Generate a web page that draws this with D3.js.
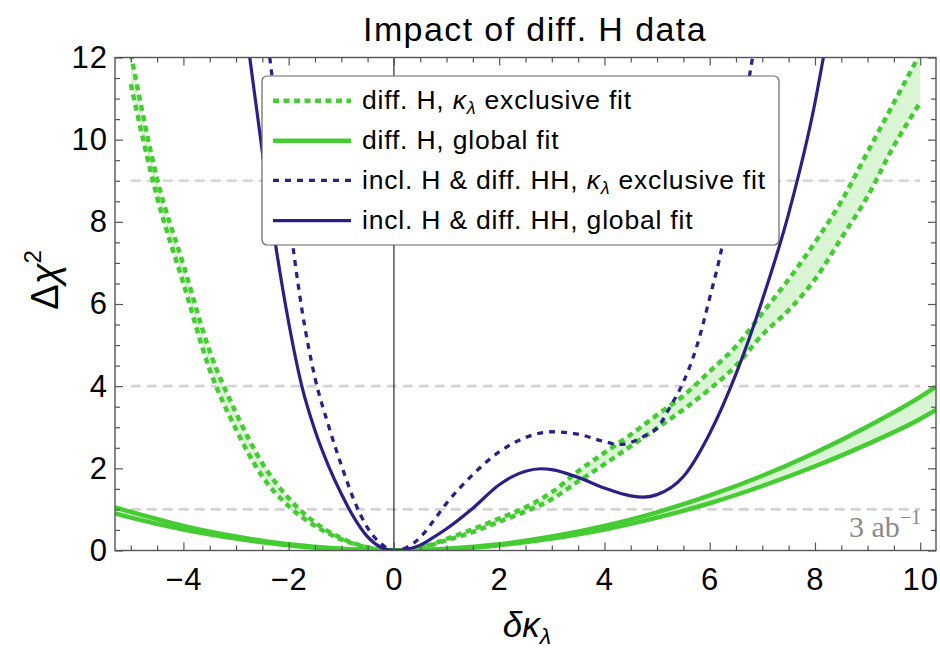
<!DOCTYPE html>
<html><head><meta charset="utf-8">
<script src="https://cdn.jsdelivr.net/npm/d3@7"></script>
<style>body{margin:0;background:#fff} svg{display:block}</style>
</head><body><svg id="c" width="940" height="650"></svg>
<script>
// ---------------- data ----------------
const xDomain = [-5.3, 10.3];
const yDomain = [0, 12];
const xTickLabels = [-4, -2, 0, 2, 4, 6, 8, 10];
const yTickLabels = [0, 2, 4, 6, 8, 10, 12];
const refLevels = [1, 4, 9];
const refRange = [-5, 10];

// diff. H, global fit (band: upper / lower edge)
const xGreenGlobal = [-5.3, -5, -4, -3, -2, -1, 0, 1, 2, 3, 4, 5, 6, 7, 8, 9, 10, 10.3];
const greenGlobalUpper = [1.05, 0.94, 0.60, 0.34, 0.15, 0.04, 0, 0.04, 0.15, 0.34, 0.60, 0.93, 1.34, 1.82, 2.38, 3.02, 3.74, 3.99];
const greenGlobalLower = [0.90, 0.80, 0.51, 0.29, 0.13, 0.03, 0, 0.03, 0.13, 0.29, 0.51, 0.80, 1.15, 1.57, 2.05, 2.59, 3.20, 3.42];

// diff. H, kappa_lambda exclusive fit (band: upper / lower edge)
const xGreenExcl = [-5, -4.5, -4, -3.5, -3, -2.5, -2, -1.5, -1, -0.5, 0, 0.5, 1, 1.5, 2, 2.5, 3, 3.5, 4, 4.5, 5, 5.5, 6, 6.5, 7, 7.5, 8, 8.5, 9, 9.5, 10];
const greenExclUpper = [12.1, 9.05, 6.95, 4.85, 3.35, 2.12, 1.27, 0.68, 0.30, 0.08, 0, 0.07, 0.28, 0.52, 0.78, 1.05, 1.42, 1.93, 2.38, 2.82, 3.30, 3.77, 4.36, 4.97, 5.78, 6.60, 7.50, 8.50, 9.70, 10.90, 12.10];
const greenExclLower = [11.35, 8.60, 6.50, 4.40, 2.95, 1.80, 1.08, 0.60, 0.27, 0.07, 0, 0.06, 0.25, 0.45, 0.70, 0.95, 1.25, 1.68, 2.10, 2.54, 2.98, 3.43, 3.93, 4.50, 5.25, 5.85, 6.60, 7.60, 8.62, 9.85, 10.90];

// incl. H & diff. HH, global fit
const xPurpleGlobal = [-2.74, -2.5, -2.25, -2, -1.75, -1.5, -1.25, -1, -0.75, -0.5, -0.25, 0, 0.25, 0.5, 0.75, 1, 1.5, 2, 2.25, 2.5, 2.8, 3, 3.5, 4, 4.5, 4.75, 5, 5.5, 6, 6.5, 7, 7.5, 8, 8.16];
const purpleGlobal = [12, 9.7, 7.45, 5.55, 4.0, 2.92, 2.08, 1.38, 0.78, 0.33, 0.08, 0, 0.03, 0.13, 0.32, 0.53, 1.03, 1.6, 1.8, 1.93, 1.99, 1.97, 1.78, 1.52, 1.33, 1.30, 1.36, 1.80, 2.85, 4.3, 6.1, 8.2, 10.9, 12];

// incl. H & diff. HH, kappa_lambda exclusive fit
const xPurpleExcl = [-2.36, -2.25, -2, -1.75, -1.5, -1.25, -1, -0.75, -0.5, -0.25, 0, 0.25, 0.5, 0.75, 1, 1.25, 1.5, 1.75, 2, 2.5, 3, 3.5, 4, 4.25, 4.5, 4.75, 5, 5.25, 5.5, 5.75, 6, 6.25, 6.5, 6.75, 6.84];
const purpleExcl = [12, 10.87, 8.2, 5.88, 4.2, 3.07, 2.08, 1.2, 0.55, 0.17, 0, 0.08, 0.32, 0.72, 1.15, 1.52, 1.85, 2.15, 2.4, 2.75, 2.89, 2.83, 2.65, 2.58, 2.63, 2.78, 2.98, 3.5, 4.1, 4.95, 6.15, 7.5, 9.5, 11.5, 12.2];

const legendLabels = [
  ["diff. H, ", "κ", "λ", " exclusive fit"],
  ["diff. H, global fit"],
  ["incl. H & diff. HH, ", "κ", "λ", " exclusive fit"],
  ["incl. H & diff. HH, global fit"]
];

// ---------------- drawing ----------------
const GREEN = "#45cc33", GREEN_FILL = "#d9f5d4", PURPLE = "#2c1f86";
const FONT = "'Liberation Sans', Arial, Helvetica, sans-serif";
const svg = d3.select("#c");
const L = 115, R = 936, T = 57.5, B = 550.5;
const x = d3.scaleLinear().domain(xDomain).range([L, R]);
const y = d3.scaleLinear().domain(yDomain).range([B, T]);

svg.append("defs").append("clipPath").attr("id", "plot")
  .append("rect").attr("x", L).attr("y", T).attr("width", R - L).attr("height", B - T);

// reference dashed levels
svg.append("g").selectAll("line").data(refLevels).join("line")
  .attr("x1", x(refRange[0])).attr("x2", x(refRange[1]))
  .attr("y1", d => y(d)).attr("y2", d => y(d))
  .attr("stroke", "#d4d4d4").attr("stroke-width", 2.6).attr("stroke-dasharray", "10,6");

// vertical line at 0
svg.append("line").attr("x1", x(0)).attr("x2", x(0)).attr("y1", T).attr("y2", B)
  .attr("stroke", "#000").attr("stroke-width", 1);

const plot = svg.append("g").attr("clip-path", "url(#plot)");
const curve = d3.curveMonotoneX;
const zip = (xs, ys) => xs.map((v, i) => [v, ys[i]]);
const line = d3.line().x(d => x(d[0])).y(d => y(d[1])).curve(curve);
const area = d3.area().x(d => x(d[0])).y0(d => y(d[1])).y1(d => y(d[2])).curve(curve);

// bands
plot.append("path").datum(xGreenExcl.map((v, i) => [v, greenExclLower[i], greenExclUpper[i]]))
  .attr("d", area).attr("fill", GREEN_FILL);
plot.append("path").datum(xGreenGlobal.map((v, i) => [v, greenGlobalLower[i], greenGlobalUpper[i]]))
  .attr("d", area).attr("fill", GREEN_FILL);

// green lines
[greenGlobalUpper, greenGlobalLower].forEach(s =>
  plot.append("path").datum(zip(xGreenGlobal, s)).attr("d", line)
    .attr("fill", "none").attr("stroke", GREEN).attr("stroke-width", 4.5));
[greenExclUpper, greenExclLower].forEach(s =>
  plot.append("path").datum(zip(xGreenExcl, s)).attr("d", line)
    .attr("fill", "none").attr("stroke", GREEN).attr("stroke-width", 4.5)
    .attr("stroke-dasharray", "6,4.5"));

// purple lines
plot.append("path").datum(zip(xPurpleExcl, purpleExcl)).attr("d", line)
  .attr("fill", "none").attr("stroke", PURPLE).attr("stroke-width", 3.3)
  .attr("stroke-dasharray", "6,6");
plot.append("path").datum(zip(xPurpleGlobal, purpleGlobal)).attr("d", line)
  .attr("fill", "none").attr("stroke", PURPLE).attr("stroke-width", 3.2);

// frame + ticks
const FRAME = "#555";
function styleAxis(g) {
  g.select(".domain").remove();
  g.selectAll("line").attr("stroke", FRAME).attr("stroke-width", 1.2);
  g.selectAll("text").attr("font-size", 31).attr("font-family", FONT)
    .attr("fill", "#000").style("letter-spacing", "1px");
}
const xMinor = d3.range(-5, 10.01, 0.5).filter(v => !xTickLabels.includes(v));
const yMinor = d3.range(0, 12.01, 0.5).filter(v => !yTickLabels.includes(v));

svg.append("g").attr("transform", `translate(0,${B})`)
  .call(d3.axisBottom(x).tickValues(xTickLabels).tickSize(-8).tickPadding(17)).call(styleAxis);
svg.append("g").attr("transform", `translate(0,${B})`)
  .call(d3.axisBottom(x).tickValues(xMinor).tickSize(-5).tickFormat("")).call(styleAxis);
svg.append("g").attr("transform", `translate(0,${T})`)
  .call(d3.axisTop(x).tickValues(xTickLabels).tickSize(-8).tickFormat("")).call(styleAxis);
svg.append("g").attr("transform", `translate(0,${T})`)
  .call(d3.axisTop(x).tickValues(xMinor).tickSize(-5).tickFormat("")).call(styleAxis);
svg.append("g").attr("transform", `translate(${L},0)`)
  .call(d3.axisLeft(y).tickValues(yTickLabels).tickSize(-8).tickPadding(7)).call(styleAxis);
svg.append("g").attr("transform", `translate(${L},0)`)
  .call(d3.axisLeft(y).tickValues(yMinor).tickSize(-5).tickFormat("")).call(styleAxis);
svg.append("g").attr("transform", `translate(${R},0)`)
  .call(d3.axisRight(y).tickValues(yTickLabels).tickSize(-8).tickFormat("")).call(styleAxis);
svg.append("g").attr("transform", `translate(${R},0)`)
  .call(d3.axisRight(y).tickValues(yMinor).tickSize(-5).tickFormat("")).call(styleAxis);

svg.append("rect").attr("x", L).attr("y", T).attr("width", R - L).attr("height", B - T)
  .attr("fill", "none").attr("stroke", FRAME).attr("stroke-width", 1.4);

// legend
const lg = svg.append("g");
lg.append("rect").attr("x", 262).attr("y", 76).attr("width", 517).attr("height", 169)
  .attr("rx", 5).attr("fill", "#fff").attr("stroke", "#666").attr("stroke-width", 1.2);
const legendStyles = [
  {c: GREEN, w: 4.5, dash: "6,4.5"},
  {c: GREEN, w: 4.5, dash: null},
  {c: PURPLE, w: 3.3, dash: "6,6"},
  {c: PURPLE, w: 3.2, dash: null}
];
const rowY = [100.7, 140.7, 180.3, 220.7];
legendLabels.forEach((parts, i) => {
  const st = legendStyles[i];
  lg.append("line").attr("x1", 273).attr("x2", 351).attr("y1", rowY[i]).attr("y2", rowY[i])
    .attr("stroke", st.c).attr("stroke-width", st.w).attr("stroke-dasharray", st.dash);
  const t = lg.append("text").attr("x", 362).attr("y", rowY[i] + 8.5)
    .attr("font-family", FONT).attr("font-size", 26.5).style("letter-spacing", "0.8px");
  if (parts.length === 1) t.text(parts[0]);
  else {
    t.append("tspan").text(parts[0]);
    t.append("tspan").attr("font-style", "italic").text(parts[1]);
    t.append("tspan").attr("font-style", "italic").attr("font-size", 18).attr("dy", 5).text(parts[2]);
    t.append("tspan").attr("dy", -5).text(parts[3]);
  }
});

// title
svg.append("text").attr("x", 535).attr("y", 41).attr("text-anchor", "middle")
  .attr("font-family", FONT).attr("font-size", 34).style("letter-spacing", "1.4px")
  .text("Impact of diff. H data");

// axis labels
const xl = svg.append("text").attr("x", 527).attr("y", 637).attr("text-anchor", "middle")
  .attr("font-family", FONT).attr("font-size", 35).attr("font-style", "italic");
xl.append("tspan").text("δκ");
xl.append("tspan").attr("font-size", 23).attr("dy", 7).text("λ");

const yl = svg.append("text").attr("transform", "translate(58,280) rotate(-90)")
  .attr("text-anchor", "middle").attr("font-family", FONT).attr("font-size", 38);
yl.append("tspan").text("Δ");
yl.append("tspan").attr("font-style", "italic").text("χ");
yl.append("tspan").attr("font-size", 24).attr("dy", -17).text("2");

// luminosity note
const note = svg.append("text").attr("x", 849).attr("y", 537)
  .attr("font-family", "'Liberation Serif', 'Times New Roman', serif").attr("font-size", 30).attr("fill", "#8a8a8a");
note.append("tspan").text("3 ab");
note.append("tspan").attr("font-size", 20).attr("dy", -13).text("−1");
</script></body></html>
